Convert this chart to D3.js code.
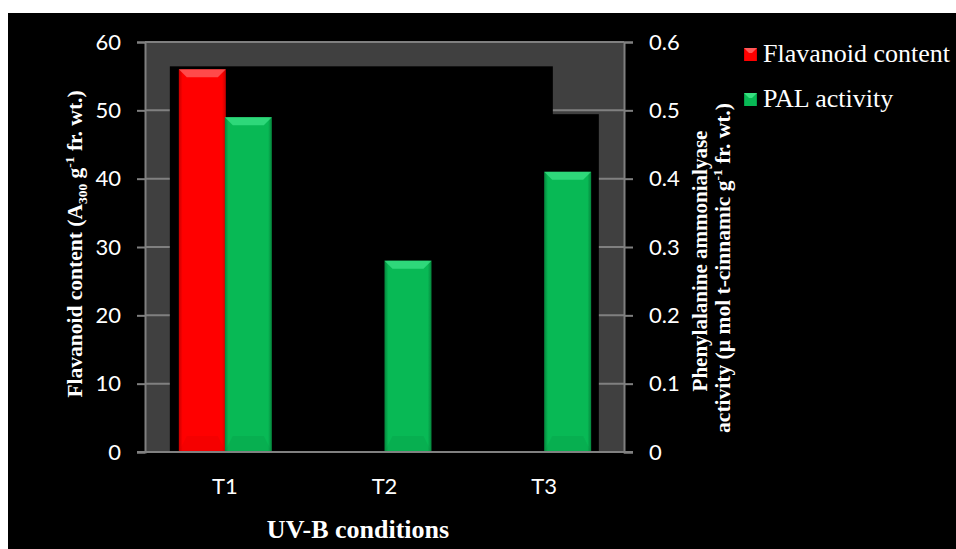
<!DOCTYPE html>
<html>
<head>
<meta charset="utf-8">
<script src="https://cdn.jsdelivr.net/npm/d3@7"></script>
<style>
  html, body { margin: 0; padding: 0; background: #fff; }
  svg { display: block; }
</style>
</head>
<body>
<svg id="chart"></svg>
<script>
const categories = ["T1", "T2", "T3"];
const seriesNames = ["Flavanoid content", "PAL activity"];
const flavanoid = [56, null, null];
const palActivity = [0.49, 0.28, 0.41];
const leftTicks = [0, 10, 20, 30, 40, 50, 60];
const rightTicks = [0, 0.1, 0.2, 0.3, 0.4, 0.5, 0.6];

const width = 956;
const height = 549;
const plot = { left: 145, right: 624, top: 42, bottom: 452 };

const svg = d3.select("#chart").attr("width", width).attr("height", height);

// black chart area with white strip at top/left
svg.append("rect").attr("x", 8).attr("y", 13).attr("width", width - 8).attr("height", height - 13).attr("fill", "#000");

const defs = svg.append("defs");
const colors = {
  "Flavanoid content": { base: "#ff0000", light: "#ff6a6a", dark: "#c80000" },
  "PAL activity": { base: "#08b955", light: "#3fe68a", dark: "#05853c" }
};
seriesNames.forEach((s, i) => {
  const g = defs.append("linearGradient").attr("id", "side" + i).attr("x1", 0).attr("x2", 1).attr("y1", 0).attr("y2", 0);
  g.append("stop").attr("offset", "0%").attr("stop-color", colors[s].dark);
  g.append("stop").attr("offset", "8%").attr("stop-color", colors[s].base);
  g.append("stop").attr("offset", "92%").attr("stop-color", colors[s].base);
  g.append("stop").attr("offset", "100%").attr("stop-color", colors[s].dark);
});
defs.append("clipPath").attr("id", "plotClip").append("rect")
  .attr("x", plot.left).attr("y", plot.top)
  .attr("width", plot.right - plot.left).attr("height", plot.bottom - plot.top);

const x0 = d3.scaleBand().domain(categories).range([plot.left, plot.right]).padding(0);
const barW = 46;
const x1 = d3.scaleBand().domain(seriesNames).range([x0.bandwidth() / 2 - barW, x0.bandwidth() / 2 + barW]).padding(0);
const yL = d3.scaleLinear().domain([0, 60]).range([plot.bottom, plot.top]);
const yR = d3.scaleLinear().domain([0, 0.6]).range([plot.bottom, plot.top]);

const bars = [];
categories.forEach((c, i) => {
  if (flavanoid[i] != null) bars.push({ cat: c, s: seriesNames[0], si: 0, y: yL(flavanoid[i]) });
  if (palActivity[i] != null) bars.push({ cat: c, s: seriesNames[1], si: 1, y: yR(palActivity[i]) });
});

// plot area
svg.append("rect")
  .attr("x", plot.left).attr("y", plot.top)
  .attr("width", plot.right - plot.left).attr("height", plot.bottom - plot.top)
  .attr("fill", "#404040");

// gridlines
svg.append("g")
  .selectAll("line")
  .data(leftTicks)
  .join("line")
  .attr("x1", plot.left).attr("x2", plot.right)
  .attr("y1", (d) => yL(d)).attr("y2", (d) => yL(d))
  .attr("stroke", "#808080").attr("stroke-width", 2);

// dark backdrop cast by the first group's bars
svg.append("g")
  .attr("clip-path", "url(#plotClip)")
  .selectAll("rect")
  .data(bars.filter((b) => b.cat === categories[0]))
  .join("rect")
  .attr("x", (d) => x0(d.cat) + x1(d.s) - 9)
  .attr("y", (d) => d.y - 3)
  .attr("width", 383)
  .attr("height", (d) => plot.bottom - d.y + 3)
  .attr("fill", "#000");

// bars with bevel
const bevel = 8;
const barG = svg.append("g").selectAll("g").data(bars).join("g")
  .attr("transform", (d) => `translate(${x0(d.cat) + x1(d.s)},0)`);
barG.append("rect")
  .attr("x", 0).attr("y", (d) => d.y)
  .attr("width", barW + 1).attr("height", (d) => plot.bottom - d.y)
  .attr("fill", (d) => `url(#side${d.si})`);
barG.append("polygon")
  .attr("points", (d) => [[0, d.y], [barW + 1, d.y], [barW + 1 - bevel, d.y + bevel], [bevel, d.y + bevel]].join(" "))
  .attr("fill", (d) => colors[d.s].light)
  .attr("opacity", 0.7);
barG.append("polygon")
  .attr("points", (d) => [[0, plot.bottom], [barW + 1, plot.bottom], [barW + 1 - bevel, plot.bottom - bevel * 2], [bevel, plot.bottom - bevel * 2]].join(" "))
  .attr("fill", (d) => colors[d.s].dark)
  .attr("opacity", 0.18);

// axes
const axisColor = "#808080";
const leftAxis = svg.append("g")
  .attr("transform", `translate(${plot.left},0)`)
  .call(d3.axisLeft(yL).tickValues(leftTicks).tickSize(8).tickPadding(16));
const rightAxis = svg.append("g")
  .attr("transform", `translate(${plot.right},0)`)
  .call(d3.axisRight(yR).tickValues(rightTicks).tickSize(9).tickPadding(16).tickFormat((d) => d === 0 ? "0" : d3.format(".1f")(d)));
const bottomAxis = svg.append("g")
  .attr("transform", `translate(0,${plot.bottom})`)
  .call(d3.axisBottom(x0).tickSize(0).tickPadding(26));
[leftAxis, rightAxis].forEach((a) => {
  a.select(".domain").attr("stroke", axisColor).attr("stroke-width", 2);
  a.selectAll(".tick line").attr("stroke", axisColor).attr("stroke-width", 2);
});
bottomAxis.select(".domain").remove();
svg.append("line")
  .attr("x1", plot.left - 8).attr("x2", plot.right + 9)
  .attr("y1", plot.bottom).attr("y2", plot.bottom)
  .attr("stroke", axisColor).attr("stroke-width", 2);
svg.selectAll(".tick text")
  .attr("fill", "#fff")
  .attr("font-family", "Lato, 'Open Sans', sans-serif")
  .attr("font-size", 22);

// axis titles
const serif = "'Liberation Serif', 'Times New Roman', serif";
const leftTitle = svg.append("text")
  .attr("transform", "translate(82,244) rotate(-90)")
  .attr("text-anchor", "middle")
  .attr("font-family", serif).attr("font-weight", "bold").attr("font-size", 21.5)
  .attr("fill", "#fff");
leftTitle.append("tspan").text("Flavanoid content (A");
leftTitle.append("tspan").attr("font-size", 13.5).attr("dy", 5).text("300");
leftTitle.append("tspan").attr("dy", -5).text(" g");
leftTitle.append("tspan").attr("font-size", 13.5).attr("dy", -8).text("-1");
leftTitle.append("tspan").attr("dy", 8).text(" fr. wt.)");

svg.append("text")
  .attr("transform", "translate(707,261) rotate(-90)")
  .attr("text-anchor", "middle")
  .attr("font-family", serif).attr("font-weight", "bold").attr("font-size", 21)
  .attr("fill", "#fff")
  .text("Phenylalanine ammonialyase");
const rightTitle2 = svg.append("text")
  .attr("transform", "translate(730,268) rotate(-90)")
  .attr("text-anchor", "middle")
  .attr("font-family", serif).attr("font-weight", "bold").attr("font-size", 21.5)
  .attr("fill", "#fff");
rightTitle2.append("tspan").text("activity (µ mol t-cinnamic g");
rightTitle2.append("tspan").attr("font-size", 13.5).attr("dy", -8).text("-1");
rightTitle2.append("tspan").attr("dy", 8).text(" fr. wt.)");

svg.append("text")
  .attr("x", 358).attr("y", 538)
  .attr("text-anchor", "middle")
  .attr("font-family", serif).attr("font-weight", "bold").attr("font-size", 26)
  .attr("fill", "#fff")
  .text("UV-B conditions");

// legend
const legend = svg.append("g").attr("transform", "translate(744,48)");
const legendRow = legend.selectAll("g").data(seriesNames).join("g")
  .attr("transform", (d, i) => `translate(0,${i * 45})`);
legendRow.append("rect").attr("width", 13).attr("height", 13)
  .attr("fill", (d, i) => `url(#side${i})`);
legendRow.append("polygon").attr("points", "0,0 13,0 8,5 5,5")
  .attr("fill", (d) => colors[d].light).attr("opacity", 0.85);
legendRow.append("text")
  .attr("x", 19).attr("y", 14)
  .attr("font-family", serif).attr("font-size", 26)
  .attr("fill", "#fff")
  .text((d) => d);
</script>
</body>
</html>
